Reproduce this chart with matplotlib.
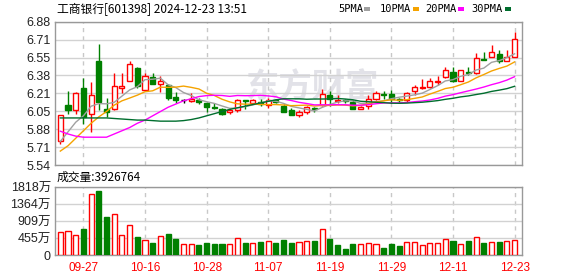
import matplotlib
matplotlib.use('Agg')
import matplotlib.pyplot as plt
import numpy as np
from matplotlib.patches import Rectangle

plt.rcParams['font.family'] = ['Liberation Sans', 'Noto Sans CJK SC']

# ---- dati (60 sedute, 24/09 -> 23/12) ----
opens = np.array([5.76, 6.10, 6.05, 6.26, 6.02, 6.51, 6.06, 6.06, 6.26, 6.33,
                  6.45, 6.24, 6.36, 6.30, 6.29, 6.18, 6.15, 6.14, 6.15, 6.12,
                  6.08, 6.06, 6.04, 6.05, 6.15, 6.12, 6.13, 6.10, 6.15, 6.09,
                  6.05, 6.01, 6.04, 6.07, 6.10, 6.19, 6.14, 6.15, 6.13, 6.06,
                  6.09, 6.16, 6.20, 6.20, 6.16, 6.15, 6.23, 6.26, 6.27, 6.32,
                  6.36, 6.41, 6.33, 6.41, 6.40, 6.53, 6.55, 6.58, 6.51, 6.55])
highs = np.array([6.01, 6.23, 6.22, 6.35, 6.32, 6.67, 6.17, 6.40, 6.40, 6.51,
                  6.46, 6.40, 6.40, 6.37, 6.30, 6.22, 6.16, 6.21, 6.17, 6.13,
                  6.12, 6.07, 6.07, 6.16, 6.15, 6.16, 6.16, 6.17, 6.16, 6.11,
                  6.07, 6.05, 6.09, 6.08, 6.25, 6.23, 6.19, 6.16, 6.15, 6.09,
                  6.19, 6.23, 6.23, 6.24, 6.17, 6.22, 6.29, 6.34, 6.35, 6.37,
                  6.46, 6.46, 6.43, 6.46, 6.59, 6.60, 6.66, 6.62, 6.62, 6.78])
lows = np.array([5.74, 6.02, 6.02, 5.92, 5.85, 6.05, 5.99, 6.05, 6.21, 6.33,
                 6.26, 6.23, 6.30, 6.22, 6.15, 6.12, 6.12, 6.13, 6.11, 6.04,
                 6.06, 6.01, 6.02, 6.04, 6.06, 6.11, 6.09, 6.07, 6.12, 6.04,
                 6.01, 5.99, 6.02, 6.04, 6.09, 6.09, 6.12, 6.12, 6.06, 6.06,
                 6.06, 6.15, 6.16, 6.12, 6.12, 6.13, 6.19, 6.25, 6.26, 6.29,
                 6.35, 6.32, 6.33, 6.38, 6.39, 6.52, 6.55, 6.49, 6.51, 6.55])
closes = np.array([6.01, 6.05, 6.21, 5.99, 6.19, 6.13, 6.04, 6.28, 6.28, 6.48,
                   6.28, 6.37, 6.30, 6.33, 6.17, 6.15, 6.15, 6.16, 6.13, 6.08,
                   6.07, 6.02, 6.05, 6.15, 6.14, 6.15, 6.11, 6.15, 6.13, 6.04,
                   6.01, 6.04, 6.08, 6.06, 6.20, 6.16, 6.15, 6.14, 6.06, 6.08,
                   6.16, 6.21, 6.19, 6.16, 6.15, 6.21, 6.27, 6.27, 6.33, 6.33,
                   6.43, 6.33, 6.43, 6.40, 6.54, 6.52, 6.60, 6.51, 6.55, 6.72])

ma5 = [5.76, 5.85, 5.94, 6.00, 6.090, 6.114, 6.112, 6.126, 6.184, 6.242,
       6.272, 6.338, 6.342, 6.352, 6.290, 6.264, 6.218, 6.190, 6.150, 6.132,
       6.116, 6.092, 6.070, 6.074, 6.086, 6.102, 6.120, 6.140, 6.136, 6.116,
       6.088, 6.074, 6.060, 6.046, 6.078, 6.106, 6.128, 6.140, 6.140, 6.116,
       6.118, 6.130, 6.140, 6.160, 6.174, 6.184, 6.196, 6.212, 6.246, 6.282,
       6.326, 6.338, 6.370, 6.386, 6.428, 6.446, 6.500, 6.516, 6.544, 6.580]
ma10 = [5.67, 5.72, 5.79, 5.86, 5.93, 5.99, 6.04, 6.10, 6.14, 6.166,
        6.193, 6.225, 6.234, 6.268, 6.266, 6.268, 6.278, 6.266, 6.251, 6.211,
        6.190, 6.155, 6.130, 6.112, 6.109, 6.109, 6.106, 6.105, 6.105, 6.101,
        6.095, 6.097, 6.100, 6.091, 6.097, 6.097, 6.101, 6.100, 6.093, 6.097,
        6.112, 6.129, 6.140, 6.150, 6.145, 6.151, 6.163, 6.176, 6.203, 6.228,
        6.255, 6.267, 6.291, 6.316, 6.355, 6.386, 6.419, 6.443, 6.465, 6.504]
ma20 = [5.856, 5.83, 5.81, 5.80, 5.80, 5.80, 5.80, 5.83, 5.86, 5.89,
        5.93, 5.96, 6.00, 6.04, 6.08, 6.11, 6.14, 6.16, 6.18, 6.189,
        6.192, 6.190, 6.182, 6.190, 6.188, 6.189, 6.192, 6.186, 6.178, 6.156,
        6.143, 6.126, 6.115, 6.102, 6.103, 6.103, 6.104, 6.103, 6.099, 6.099,
        6.104, 6.113, 6.120, 6.121, 6.121, 6.124, 6.132, 6.138, 6.148, 6.163,
        6.184, 6.198, 6.216, 6.233, 6.250, 6.269, 6.291, 6.310, 6.334, 6.366]
ma30 = [5.98, 5.98, 5.98, 5.98, 5.98, 5.98, 5.98, 5.975, 5.97, 5.965,
        5.96, 5.96, 5.955, 5.95, 5.95, 5.95, 5.955, 5.965, 5.98, 6.00,
        6.02, 6.04, 6.06, 6.075, 6.09, 6.105, 6.12, 6.135, 6.15, 6.159,
        6.159, 6.159, 6.155, 6.157, 6.157, 6.158, 6.162, 6.157, 6.150, 6.136,
        6.132, 6.127, 6.123, 6.118, 6.117, 6.119, 6.123, 6.127, 6.134, 6.142,
        6.154, 6.164, 6.177, 6.186, 6.199, 6.211, 6.228, 6.240, 6.254, 6.276]

# volume in 万
volumes = np.array([603, 639, 532, 692, 1641, 1703, 1011, 1109, 532, 789,
                    479, 390, 319, 497, 559, 426, 284, 284, 266, 319,
                    293, 293, 293, 444, 319, 319, 346, 364, 319, 399,
                    328, 346, 373, 373, 683, 417, 266, 160, 293, 293,
                    319, 293, 186, 293, 239, 346, 346, 266, 319, 319,
                    417, 373, 293, 373, 470, 319, 346, 346, 373, 399])

date_idx = [3, 11, 19, 27, 35, 43, 51, 59]
date_labels = ['09-27', '10-16', '10-28', '11-07', '11-19', '11-29', '12-11', '12-23']
price_labels = ['5.54', '5.71', '5.88', '6.05', '6.21', '6.38', '6.55', '6.71', '6.88']
vol_labels = ['0', '455万', '909万', '1364万', '1818万']
titolo = '工商银行[601398] 2024-12-23 13:51'
vol_titolo = '成交量:3926764'
ma_names = ['5PMA', '10PMA', '20PMA', '30PMA']

RED = '#ff0000'
GREEN = '#008000'
MA_COLORS = ['#a0a0a0', '#f5a300', '#ff00ff', '#006e2e']
GRID = '#d2d2d2'
BORDER = '#999999'

W, H = 578, 276
fig = plt.figure(figsize=(W / 100, H / 100), dpi=100)


def fx(px):
    return px / W


def fy(py):
    return 1 - py / H


ax = fig.add_axes([fx(55), fy(165), fx(522) - fx(55), fy(21.7) - fy(165)])
axv = fig.add_axes([fx(55), fy(255), fx(522) - fx(55), fy(187) - fy(255)])

x = np.arange(len(closes))
bw = 0.66
up = closes > opens
down = closes < opens
flat = closes == opens

# ============ candele ============
wick_col = np.where(up, RED, np.where(down, GREEN, 'black'))
ax.vlines(x, lows, highs, colors=wick_col, lw=1, zorder=3)
ax.bar(x[up], (closes - opens)[up], bottom=opens[up], width=bw,
       facecolor='white', edgecolor=RED, lw=1, zorder=4)
ax.bar(x[down], (opens - closes)[down], bottom=closes[down], width=bw,
       facecolor=GREEN, edgecolor=GREEN, lw=1, zorder=4)
ax.hlines(closes[flat], x[flat] - bw / 2, x[flat] + bw / 2, colors='black', lw=1, zorder=4)

for ma, col in zip([ma5, ma10, ma20, ma30], MA_COLORS):
    ax.plot(x, ma, color=col, lw=1, zorder=5)

ymin, ymax = 5.54, 6.88
ax.set_ylim(ymin, ymax)
ax.set_yticks(np.linspace(ymin, ymax, 9))
ax.set_yticklabels(price_labels)

# ============ volume ============
vol_up = np.r_[True, closes[1:] >= closes[:-1]]
axv.bar(x, volumes, width=bw,
        facecolor=np.where(vol_up, 'white', GREEN),
        edgecolor=np.where(vol_up, RED, GREEN), lw=1, zorder=4)
axv.set_ylim(0, 1818)
axv.set_yticks(np.linspace(0, 1818, 5))
axv.set_yticklabels(vol_labels)

for a in (ax, axv):
    a.set_xlim(-0.69, 59.96)
    a.set_xticks(date_idx)
    a.grid(True, axis='y', color=GRID, lw=1, zorder=1)
    a.grid(True, axis='x', color='#c8c8c8', lw=1, linestyle=(0, (3, 3)), zorder=1)
    a.tick_params(length=0, labelsize=9, labelcolor='#222222', pad=3)
    for s in a.spines.values():
        s.set_color(BORDER)
        s.set_linewidth(1)

ax.set_xticklabels([])
axv.set_xticklabels(date_labels)
axv.tick_params(axis='x', labelcolor=RED, labelsize=8.5, pad=5)

# filigrana
ax.text(fx(312), fy(88), '东方财富', transform=fig.transFigure, fontsize=24,
        family='Noto Sans CJK SC', fontweight='bold', color='#e2e2e8',
        ha='center', va='center', zorder=0.5)

# testi
fig.text(fx(57), fy(9), titolo, fontsize=8.5, family='Noto Sans CJK SC', va='center')
fig.text(fx(57), fy(177), vol_titolo, fontsize=8.5, family='Noto Sans CJK SC', va='center')

leg_x = [338, 380, 425, 471]
sq_x = [364, 413, 458, 505]
for name, col, lx, sx in zip(ma_names, MA_COLORS, leg_x, sq_x):
    fig.text(fx(lx), fy(9), name, fontsize=7.5, va='center', family='DejaVu Sans Mono')
    fig.patches.append(Rectangle((fx(sx), fy(11)), 6 / W, 4 / H, transform=fig.transFigure,
                                 facecolor=col, edgecolor='none'))

plt.savefig('out.png', dpi=100)
plt.close()
